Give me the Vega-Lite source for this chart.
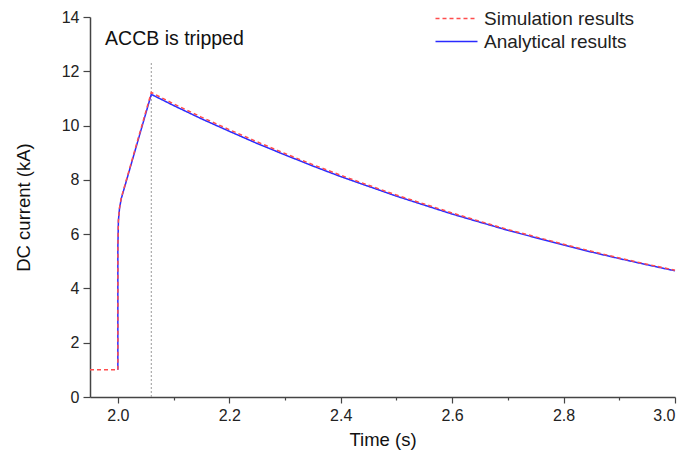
{
  "$schema": "https://vega.github.io/schema/vega-lite/v6.json",
  "width": 585,
  "height": 380,
  "autosize": "none",
  "padding": {"left": 90, "top": 17, "right": 12, "bottom": 58},
  "config": {
    "view": {"stroke": null},
    "font": "Liberation Sans",
    "axis": {
      "domainColor": "#444",
      "domainWidth": 1.5,
      "tickColor": "#444",
      "tickWidth": 1.2,
      "labelColor": "#222",
      "labelFontSize": 16,
      "titleColor": "#111",
      "titleFontSize": 18.5,
      "titleFontWeight": "normal",
      "grid": false
    }
  },
  "layer": [
    {
      "data": {"values": [{"t": 2.06, "y0": 0, "y1": 12.35}]},
      "mark": {"type": "rule", "color": "#999999", "strokeDash": [2, 2], "strokeWidth": 1},
      "encoding": {
        "x": {"field": "t", "type": "quantitative"},
        "y": {"field": "y0", "type": "quantitative"},
        "y2": {"field": "y1"}
      }
    },
    {
      "data": {
        "values": [
          {"series": "Analytical results", "k": 1, "t": 2.0, "i": 1.0},
          {"series": "Analytical results", "k": 2, "t": 2.0, "i": 5.5},
          {"series": "Analytical results", "k": 3, "t": 2.001, "i": 6.5},
          {"series": "Analytical results", "k": 4, "t": 2.003, "i": 6.95},
          {"series": "Analytical results", "k": 5, "t": 2.006, "i": 7.3},
          {"series": "Analytical results", "k": 6, "t": 2.06, "i": 11.15},
          {"series": "Analytical results", "k": 7, "t": 2.10, "i": 10.74},
          {"series": "Analytical results", "k": 8, "t": 2.15, "i": 10.25},
          {"series": "Analytical results", "k": 9, "t": 2.20, "i": 9.79},
          {"series": "Analytical results", "k": 10, "t": 2.25, "i": 9.34},
          {"series": "Analytical results", "k": 11, "t": 2.30, "i": 8.92},
          {"series": "Analytical results", "k": 12, "t": 2.35, "i": 8.51},
          {"series": "Analytical results", "k": 13, "t": 2.40, "i": 8.12},
          {"series": "Analytical results", "k": 14, "t": 2.45, "i": 7.76},
          {"series": "Analytical results", "k": 15, "t": 2.50, "i": 7.40},
          {"series": "Analytical results", "k": 16, "t": 2.55, "i": 7.07},
          {"series": "Analytical results", "k": 17, "t": 2.60, "i": 6.74},
          {"series": "Analytical results", "k": 18, "t": 2.65, "i": 6.44},
          {"series": "Analytical results", "k": 19, "t": 2.70, "i": 6.14},
          {"series": "Analytical results", "k": 20, "t": 2.75, "i": 5.87},
          {"series": "Analytical results", "k": 21, "t": 2.80, "i": 5.60},
          {"series": "Analytical results", "k": 22, "t": 2.85, "i": 5.34},
          {"series": "Analytical results", "k": 23, "t": 2.90, "i": 5.10},
          {"series": "Analytical results", "k": 24, "t": 2.95, "i": 4.87},
          {"series": "Analytical results", "k": 25, "t": 3.00, "i": 4.65},
          {"series": "Simulation results", "k": 1, "t": 1.95, "i": 1.0},
          {"series": "Simulation results", "k": 2, "t": 2.0, "i": 1.0},
          {"series": "Simulation results", "k": 3, "t": 2.0, "i": 5.5},
          {"series": "Simulation results", "k": 4, "t": 2.001, "i": 6.5},
          {"series": "Simulation results", "k": 5, "t": 2.003, "i": 6.97},
          {"series": "Simulation results", "k": 6, "t": 2.006, "i": 7.33},
          {"series": "Simulation results", "k": 7, "t": 2.06, "i": 11.22},
          {"series": "Simulation results", "k": 8, "t": 2.10, "i": 10.80},
          {"series": "Simulation results", "k": 9, "t": 2.15, "i": 10.31},
          {"series": "Simulation results", "k": 10, "t": 2.20, "i": 9.85},
          {"series": "Simulation results", "k": 11, "t": 2.25, "i": 9.40},
          {"series": "Simulation results", "k": 12, "t": 2.30, "i": 8.97},
          {"series": "Simulation results", "k": 13, "t": 2.35, "i": 8.56},
          {"series": "Simulation results", "k": 14, "t": 2.40, "i": 8.17},
          {"series": "Simulation results", "k": 15, "t": 2.45, "i": 7.80},
          {"series": "Simulation results", "k": 16, "t": 2.50, "i": 7.44},
          {"series": "Simulation results", "k": 17, "t": 2.55, "i": 7.11},
          {"series": "Simulation results", "k": 18, "t": 2.60, "i": 6.78},
          {"series": "Simulation results", "k": 19, "t": 2.65, "i": 6.47},
          {"series": "Simulation results", "k": 20, "t": 2.70, "i": 6.17},
          {"series": "Simulation results", "k": 21, "t": 2.75, "i": 5.90},
          {"series": "Simulation results", "k": 22, "t": 2.80, "i": 5.63},
          {"series": "Simulation results", "k": 23, "t": 2.85, "i": 5.37},
          {"series": "Simulation results", "k": 24, "t": 2.90, "i": 5.12},
          {"series": "Simulation results", "k": 25, "t": 2.95, "i": 4.89},
          {"series": "Simulation results", "k": 26, "t": 3.00, "i": 4.67}
        ]
      },
      "mark": {"type": "line", "strokeWidth": 1.5},
      "encoding": {
        "x": {
          "field": "t",
          "type": "quantitative",
          "scale": {"domain": [1.95, 3.0], "nice": false, "zero": false},
          "axis": {
            "title": "Time (s)",
            "values": [2.0, 2.1, 2.2, 2.3, 2.4, 2.5, 2.6, 2.7, 2.8, 2.9, 3.0],
            "labelExpr": "round(datum.value*10) % 2 == 0 ? format(datum.value, '.1f') : ''",
            "tickSize": {"condition": {"test": "round(datum.value*10) % 2 == 0", "value": 6}, "value": 3},
            "labelPadding": 4,
            "titlePadding": 7
          }
        },
        "y": {
          "field": "i",
          "type": "quantitative",
          "scale": {"domain": [0, 14], "nice": false},
          "axis": {
            "title": "DC current (kA)",
            "values": [0, 1, 2, 3, 4, 5, 6, 7, 8, 9, 10, 11, 12, 13, 14],
            "labelExpr": "datum.value % 2 == 0 ? format(datum.value, 'd') : ''",
            "tickSize": {"condition": {"test": "datum.value % 2 == 0", "value": 7}, "value": 4},
            "labelPadding": 4,
            "titlePadding": 28
          }
        },
        "color": {
          "field": "series",
          "type": "nominal",
          "scale": {"domain": ["Simulation results", "Analytical results"], "range": ["#ff4d4d", "#2a2aff"]},
          "legend": {
            "title": null,
            "orient": "none",
            "legendX": 357,
            "legendY": -8,
            "symbolType": "M-3,0H3",
            "symbolSize": 196,
            "symbolStrokeWidth": 1.5,
            "labelFontSize": 19,
            "labelColor": "#222",
            "labelOffset": 18,
            "rowPadding": 3
          }
        },
        "strokeDash": {
          "field": "series",
          "type": "nominal",
          "scale": {"domain": ["Simulation results", "Analytical results"], "range": [[4, 3], [1, 0]]},
          "legend": {
            "title": null,
            "orient": "none",
            "legendX": 357,
            "legendY": -8,
            "symbolType": "M-3,0H3",
            "symbolSize": 196,
            "symbolStrokeWidth": 1.5,
            "labelFontSize": 19,
            "labelColor": "#222",
            "labelOffset": 18,
            "rowPadding": 3
          }
        },
        "order": {"field": "k", "type": "quantitative"}
      }
    },
    {
      "data": {"values": [{"t": 1.977, "y": 13.2, "label": "ACCB is tripped"}]},
      "mark": {"type": "text", "align": "left", "baseline": "middle", "fontSize": 19.5, "color": "#111"},
      "encoding": {
        "x": {"field": "t", "type": "quantitative"},
        "y": {"field": "y", "type": "quantitative"},
        "text": {"field": "label"}
      }
    }
  ]
}
